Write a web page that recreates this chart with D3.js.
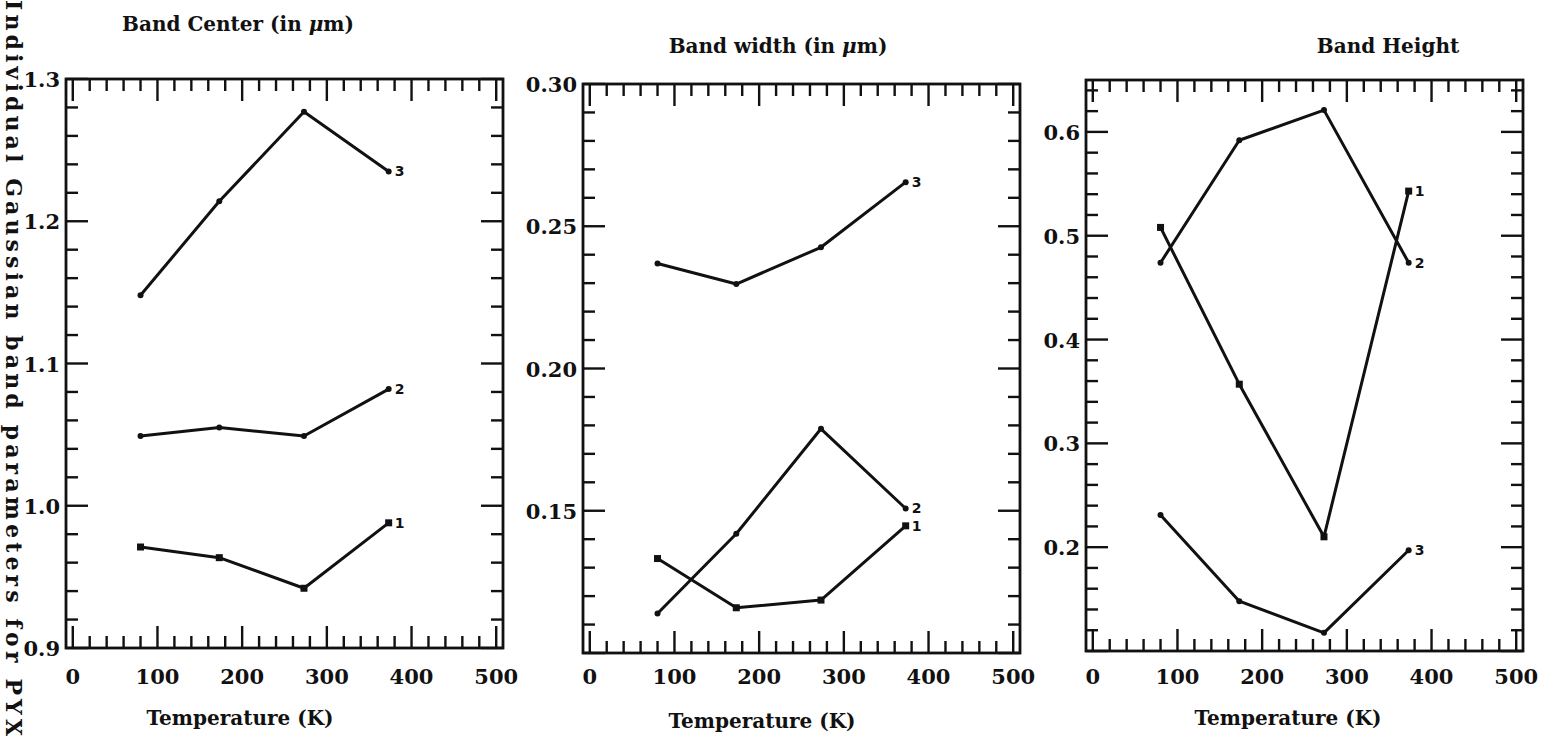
<!DOCTYPE html>
<html>
<head>
<meta charset="utf-8">
<script src="https://cdn.jsdelivr.net/npm/d3@7"></script>
<style>
  body { margin: 0; background: #fff; }
  text { font-family: "DejaVu Serif", serif; font-weight: bold; fill: #111; }
  .lbl { font-family: "DejaVu Sans", sans-serif; font-size: 14px; }
</style>
</head>
<body>
<div id="chart"></div>
<script>
// temperatures (K) where the bands were measured
var temps = [80, 173, 273, 373]
var seriesNames = ["1", "2", "3"]

// band center (in um)
var centerS1 = [0.971, 0.9635, 0.942, 0.988]
var centerS2 = [1.049, 1.055, 1.049, 1.082]
var centerS3 = [1.148, 1.214, 1.277, 1.235]

// band width (in um)
var widthS1 = [0.1332, 0.1159, 0.1186, 0.1447]
var widthS2 = [0.1139, 0.1419, 0.1788, 0.1508]
var widthS3 = [0.2369, 0.2297, 0.2426, 0.2655]

// band height
var heightS1 = [0.508, 0.357, 0.210, 0.543]
var heightS2 = [0.474, 0.592, 0.621, 0.474]
var heightS3 = [0.231, 0.148, 0.1175, 0.197]

var xTicks = [0, 100, 200, 300, 400, 500]
var centerTicks = [0.9, 1.0, 1.1, 1.2, 1.3]
var widthTicks = [0.15, 0.20, 0.25, 0.30]
var heightTicks = [0.2, 0.3, 0.4, 0.5, 0.6]

var W = 1542, H = 739
var svg = d3.select("#chart").append("svg")
    .attr("width", W)
    .attr("height", H)

// side label running down the left edge
svg.append("text")
    .attr("transform", "translate(6,0) rotate(90)")
    .attr("font-size", 22)
    .attr("textLength", 736)
    .attr("lengthAdjust", "spacing")
    .text("Individual Gaussian band parameters for PYX")

var panels = [
  { left: 66, right: 503, top: 79, bottom: 648, ydom: [0.9, 1.3], major: 0.1, minor: 0.02,
    ticks: centerTicks, fmt: ".1f", series: [centerS1, centerS2, centerS3],
    title: ["Band Center (in ", "m)"], tx: 238, ty: 31, xtx: 240, xty: 725 },
  { left: 583, right: 1020, top: 84, bottom: 653, ydom: [0.10, 0.30], major: 0.05, minor: 0.01,
    ticks: widthTicks, fmt: ".2f", series: [widthS1, widthS2, widthS3],
    title: ["Band width (in ", "m)"], tx: 778, ty: 53, xtx: 762, xty: 728 },
  { left: 1086, right: 1523, top: 80, bottom: 651, ydom: [0.10, 0.65], major: 0.1, minor: 0.02,
    ticks: heightTicks, fmt: ".1f", series: [heightS1, heightS2, heightS3],
    title: ["Band Height"], tx: 1388, ty: 53, xtx: 1288, xty: 725 }
]

panels.forEach(function(p) {
    var x = d3.scaleLinear().domain([-8, 508]).range([p.left, p.right])
    var y = d3.scaleLinear().domain(p.ydom).range([p.bottom, p.top])
    var g = svg.append("g")

    // title
    var t = g.append("text")
        .attr("x", p.tx)
        .attr("y", p.ty)
        .attr("text-anchor", "middle")
        .attr("font-size", 20)
    t.append("tspan").text(p.title[0])
    if (p.title.length > 1) {
        t.append("tspan").attr("font-style", "italic").text("\u03bc")
        t.append("tspan").text(p.title[1])
    }

    // minor / major ticks on all four sides, pointing inward
    var xMinor = d3.range(0, 501, 20)
    g.selectAll("xt")
        .data(xMinor)
        .enter()
        .append("line")
            .attr("x1", function(d) { return x(d) })
            .attr("x2", function(d) { return x(d) })
            .attr("y1", p.bottom)
            .attr("y2", function(d) { return p.bottom - (d % 100 == 0 ? 22 : 12) })
    g.selectAll("xt2")
        .data(xMinor)
        .enter()
        .append("line")
            .attr("x1", function(d) { return x(d) })
            .attr("x2", function(d) { return x(d) })
            .attr("y1", p.top)
            .attr("y2", function(d) { return p.top + (d % 100 == 0 ? 22 : 12) })

    var nMinor = Math.floor((p.ydom[1] - p.ydom[0]) / p.minor + 1e-6)
    var yMinor = d3.range(0, nMinor + 1).map(function(i) { return p.ydom[0] + i * p.minor })
    var isMajor = function(d) {
        var r = d / p.major
        return Math.abs(r - Math.round(r)) < 1e-6
    }
    g.selectAll("yt")
        .data(yMinor)
        .enter()
        .append("line")
            .attr("x1", p.left)
            .attr("x2", function(d) { return p.left + (isMajor(d) ? 22 : 12) })
            .attr("y1", function(d) { return y(d) })
            .attr("y2", function(d) { return y(d) })
    g.selectAll("yt2")
        .data(yMinor)
        .enter()
        .append("line")
            .attr("x1", p.right)
            .attr("x2", function(d) { return p.right - (isMajor(d) ? 22 : 12) })
            .attr("y1", function(d) { return y(d) })
            .attr("y2", function(d) { return y(d) })
    g.selectAll("line")
        .attr("stroke", "#111")
        .attr("stroke-width", 2.4)

    // frame
    g.append("rect")
        .attr("x", p.left)
        .attr("y", p.top)
        .attr("width", p.right - p.left)
        .attr("height", p.bottom - p.top)
        .attr("fill", "none")
        .attr("stroke", "#111")
        .attr("stroke-width", 2.8)

    // tick labels
    g.selectAll("yl")
        .data(p.ticks)
        .enter()
        .append("text")
            .attr("x", p.left - 6)
            .attr("y", function(d) { return y(d) + 8 })
            .attr("text-anchor", "end")
            .attr("font-size", 21)
            .text(function(d) { return d3.format(p.fmt)(d) })
    g.selectAll("xl")
        .data(xTicks)
        .enter()
        .append("text")
            .attr("x", function(d) { return x(d) })
            .attr("y", 684)
            .attr("text-anchor", "middle")
            .attr("font-size", 21)
            .text(function(d) { return d })

    g.append("text")
        .attr("x", p.xtx)
        .attr("y", p.xty)
        .attr("text-anchor", "middle")
        .attr("font-size", 20)
        .text("Temperature (K)")

    // the three bands
    var line = d3.line()
        .x(function(d, i) { return x(temps[i]) })
        .y(function(d) { return y(d) })

    p.series.forEach(function(s, k) {
        g.append("path")
            .attr("d", line(s))
            .attr("fill", "none")
            .attr("stroke", "#111")
            .attr("stroke-width", 3)
            .attr("stroke-linejoin", "round")

        if (k == 0) {
            g.selectAll("pt")
                .data(s)
                .enter()
                .append("rect")
                    .attr("x", function(d, i) { return x(temps[i]) - 3.5 })
                    .attr("y", function(d) { return y(d) - 3.5 })
                    .attr("width", 7)
                    .attr("height", 7)
                    .attr("fill", "#111")
        } else {
            g.selectAll("pt")
                .data(s)
                .enter()
                .append("circle")
                    .attr("cx", function(d, i) { return x(temps[i]) })
                    .attr("cy", function(d) { return y(d) })
                    .attr("r", 3)
                    .attr("fill", "#111")
        }

        g.append("text")
            .attr("class", "lbl")
            .attr("x", x(temps[3]) + 6)
            .attr("y", y(s[3]) + 5)
            .text(seriesNames[k])
    })
})
</script>
</body>
</html>
